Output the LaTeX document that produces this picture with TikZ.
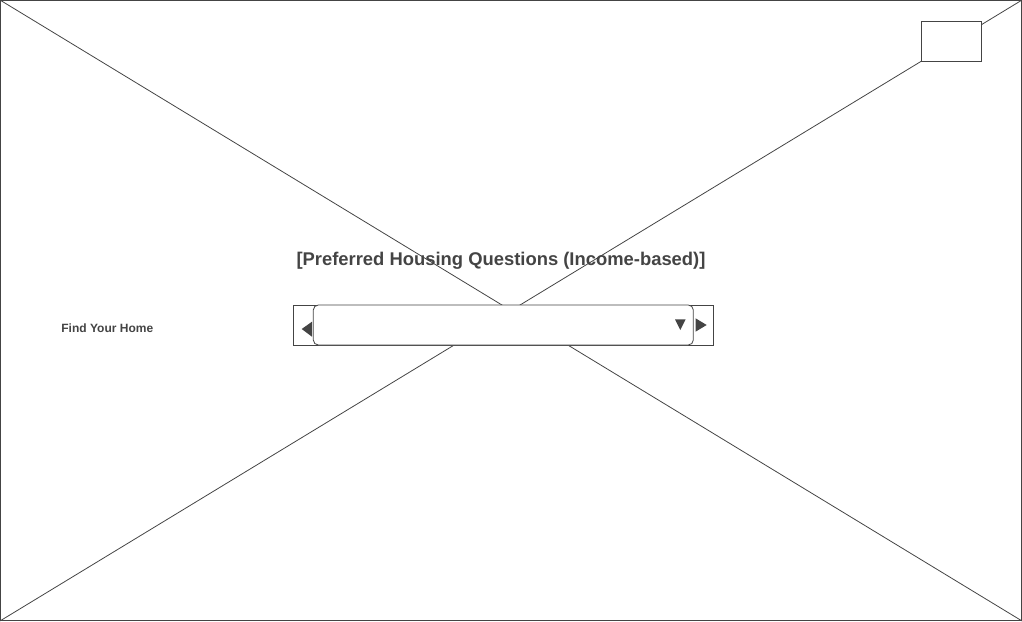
\documentclass[tikz,border=0pt]{standalone}
\usepackage{fontspec}
\setmainfont{Liberation Sans}
\usetikzlibrary{positioning}
\definecolor{ink}{HTML}{444444}

\begin{document}
\begin{tikzpicture}[x=1pt,y=-1pt,line width=0.8pt,
  frame/.style={draw=ink,minimum width=1021pt,minimum height=620pt,inner sep=0pt},
  box/.style={draw=ink,fill=white,inner sep=0pt},
  txt/.style={text=ink,font=\bfseries,inner sep=0pt}]
  \useasboundingbox (0,0) rectangle (1022,621);

  \node[frame] (page) at (511,310.5) {};
  \draw[ink] (page.north west) -- (page.south east);
  \draw[ink] (page.north east) -- (page.south west);

  \node[box,minimum width=60pt,minimum height=40pt] (logo) at (951.5,41.3) {};

  \node[txt,font=\bfseries\fontsize{18.4}{20}\selectfont] (title) at (501,260.5)
    {[Preferred Housing Questions (Income-based)]};
  \node[txt,font=\bfseries\fontsize{12}{14}\selectfont,anchor=west] (find) at (61,328)
    {Find Your Home};

  \node[box,minimum width=420pt,minimum height=40pt] (combo) at (503.3,325) {};
  \node[box,rounded corners=5pt,minimum width=380pt,minimum height=40pt] (field) at (503.3,325) {};

  % arrows of the spinner
  \fill[ink] (301.7,329) -- (312,321.7) -- (312,336.7) -- cycle;
  \fill[ink] (675,319.3) -- (685.7,319.3) -- (680.3,330) -- cycle;
  \fill[ink] (706.7,325) -- (695.5,318.3) -- (695.5,331.7) -- cycle;
\end{tikzpicture}
\end{document}
